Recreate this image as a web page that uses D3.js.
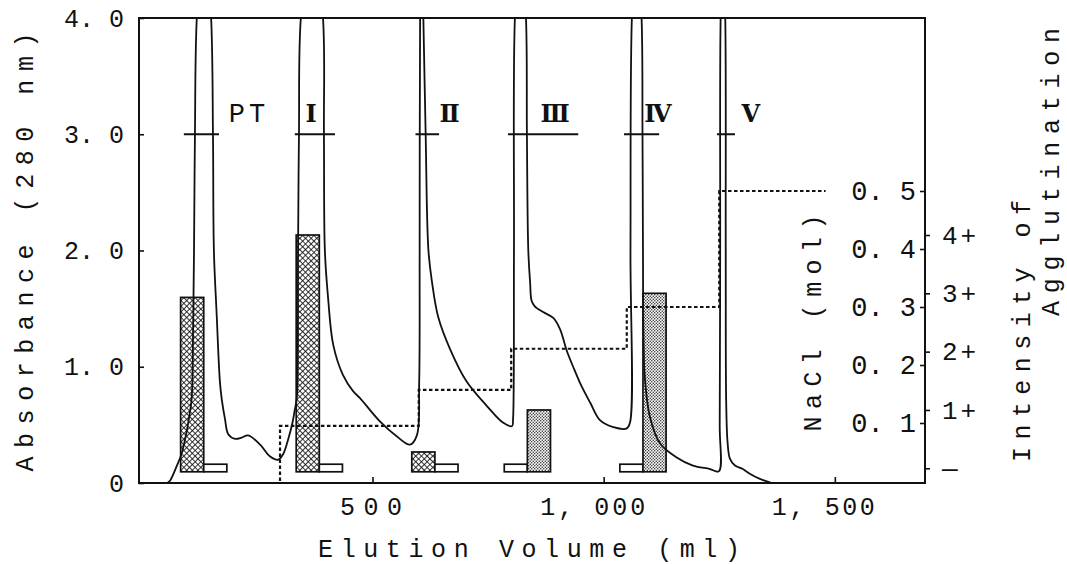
<!DOCTYPE html>
<html>
<head>
<meta charset="utf-8">
<script src="https://cdn.jsdelivr.net/npm/d3@7"></script>
<style>
  html, body { margin: 0; padding: 0; background: #fff; }
  svg text { font-family: "Liberation Mono", "DejaVu Sans Mono", monospace; fill: #111; }
</style>
</head>
<body>
<svg id="chart" width="1067" height="564"></svg>
<script>
// ---- data ----
const volTicks = [500, 1000, 1500];
const volTickLabels = ["500", "1, 000", "1, 500"];
const absTicks = [0, 1, 2, 3, 4];
const absTickLabels = ["0", "1. 0", "2. 0", "3. 0", "4. 0"];
const naclTicks = [0.1, 0.2, 0.3, 0.4, 0.5];
const naclTickLabels = ["0. 1", "0. 2", "0. 3", "0. 4", "0. 5"];
const aggTicks = [0, 1, 2, 3, 4];
const aggTickLabels = ["—", "1+", "2+", "3+", "4+"];

// absorbance at 280 nm (peaks run off the top of the frame)
const curveVol = [56, 62, 77, 87, 98, 104, 109, 112, 114, 116, 120, 136, 151, 155, 157, 163, 170, 174, 181, 188,
  203, 217, 231, 257, 278, 296, 307, 318, 327, 332, 336, 338, 339, 341, 345, 370, 393, 395, 397, 404,
  415, 436, 458, 473, 516, 553, 581, 596, 601, 602, 603, 606, 610, 615, 621, 629, 642, 668, 704, 748,
  782, 802, 804, 806, 808, 820, 832, 834, 837, 841, 844, 851, 869, 891, 906, 920, 934, 949, 971, 992,
  1021, 1050, 1057, 1058, 1061, 1071, 1082, 1084, 1085, 1086, 1089, 1100, 1122, 1158, 1193, 1230, 1249,
  1251, 1252, 1253, 1258, 1263, 1264, 1265, 1268, 1273, 1284, 1301, 1316, 1338, 1364];
const curveAbs = [0, 0.02, 0.15, 0.25, 0.44, 0.58, 0.73, 1.33, 2.0, 3.0, 4.0, 4.8, 4.0, 3.0, 2.0, 1.45, 0.87, 0.72, 0.55, 0.42,
  0.38, 0.39, 0.41, 0.33, 0.23, 0.20, 0.25, 0.38, 0.52, 0.63, 0.72, 0.9, 2.0, 3.0, 4.0, 4.8, 4.0, 3.0, 2.0, 1.59,
  1.19, 0.93, 0.79, 0.73, 0.53, 0.40, 0.33, 0.41, 0.87, 2.0, 4.0, 4.6, 4.0, 3.0, 2.0, 1.72, 1.43, 1.15, 0.87, 0.66,
  0.52, 0.49, 0.55, 2.0, 4.0, 4.7, 4.0, 3.0, 2.0, 1.72, 1.57, 1.52, 1.47, 1.42, 1.32, 1.14, 1.0, 0.86, 0.69, 0.54,
  0.48, 0.47, 0.52, 2.0, 4.0, 4.7, 4.0, 3.0, 2.0, 1.29, 0.91, 0.57, 0.34, 0.22, 0.15, 0.12, 0.10,
  0.5, 2.0, 4.0, 4.6, 4.0, 2.0, 0.7, 0.35, 0.21, 0.15, 0.12, 0.08, 0.035, 0];

// NaCl stepwise gradient
const naclVol = [300, 300, 600, 800, 1050, 1250, 1480];
const naclConc = [0, 0.095, 0.157, 0.228, 0.30, 0.50, 0.50];

// pooled fractions (bar at A280 = 3.0) and their labels
const fracNames = ["PT", "Ⅰ", "Ⅱ", "Ⅲ", "Ⅳ", "Ⅴ"];
const poolStart = [92, 332, 593, 793, 1044, 1245];
const poolEnd = [168, 419, 644, 945, 1120, 1284];
const labelVol = [233, 367, 667, 895, 1117, 1318];

// agglutination of each fraction (0 = "—")
const assayVol = [135, 385, 635, 835, 1085];
const agglHatched = [2.93, 4, 0.28, 0, 0];
const agglDotted = [0, 0, 0, 1, 3];

// ---- drawing ----
const svg = d3.select("#chart");
const L = 139, R = 925, T = 18, B = 483;
const ink = "#111";

const x = d3.scaleLinear().domain([-5, 1695]).range([L, R]);
const yAbs = d3.scaleLinear().domain([0, 4]).range([B, T]);
const yNa = d3.scaleLinear().domain([0, 0.5]).range([481, 191]);
const yAgg = d3.scaleLinear().domain([0, 4]).range([468.3, 235]);

const defs = svg.append("defs");
defs.append("clipPath").attr("id", "plotClip")
  .append("rect").attr("x", L).attr("y", T).attr("width", R - L).attr("height", B - T);

const xh = defs.append("pattern").attr("id", "xhatch")
  .attr("patternUnits", "userSpaceOnUse").attr("width", 4).attr("height", 4)
  .attr("patternTransform", "rotate(45)");
xh.append("rect").attr("width", 4).attr("height", 4).attr("fill", "#fff");
xh.append("line").attr("x1", 0).attr("y1", 0).attr("x2", 4).attr("y2", 0).attr("stroke", ink).attr("stroke-width", 1.7);
xh.append("line").attr("x1", 0).attr("y1", 0).attr("x2", 0).attr("y2", 4).attr("stroke", ink).attr("stroke-width", 1.7);

const dp = defs.append("pattern").attr("id", "dots")
  .attr("patternUnits", "userSpaceOnUse").attr("width", 3).attr("height", 3);
dp.append("rect").attr("width", 3).attr("height", 3).attr("fill", "#fff");
dp.append("circle").attr("cx", 0.75).attr("cy", 0.75).attr("r", 0.75).attr("fill", "#222");
dp.append("circle").attr("cx", 2.25).attr("cy", 2.25).attr("r", 0.75).attr("fill", "#222");

// bars
const barW = 50, base = yAgg(-0.06), negTop = yAgg(0.07);
function drawBars(vals, offset, fill) {
  svg.append("g").selectAll("rect")
    .data(vals.map((v, i) => ({ v, c: assayVol[i] })))
    .join("rect")
    .attr("x", d => x(d.c + offset))
    .attr("width", x(barW) - x(0))
    .attr("y", d => d.v > 0 ? yAgg(d.v) : negTop)
    .attr("height", d => base - (d.v > 0 ? yAgg(d.v) : negTop))
    .attr("fill", d => d.v > 0 ? fill : "#fff")
    .attr("stroke", ink).attr("stroke-width", 1.7);
}
drawBars(agglHatched, -barW, "url(#xhatch)");
drawBars(agglDotted, 0, "url(#dots)");

// NaCl gradient
svg.append("path")
  .datum(naclVol.map((v, i) => [v, naclConc[i]]))
  .attr("d", d3.line().x(d => x(d[0])).y(d => yNa(d[1])).curve(d3.curveStepAfter))
  .attr("fill", "none").attr("stroke", ink).attr("stroke-width", 2.2)
  .attr("stroke-dasharray", "3.5,2.5");

// pooled fraction bars
svg.append("g").selectAll("line")
  .data(poolStart.map((s, i) => [s, poolEnd[i]]))
  .join("line")
  .attr("x1", d => x(d[0])).attr("x2", d => x(d[1]))
  .attr("y1", yAbs(3)).attr("y2", yAbs(3))
  .attr("stroke", ink).attr("stroke-width", 2);

// absorbance curve
svg.append("path")
  .datum(curveVol.map((v, i) => [v, curveAbs[i]]))
  .attr("clip-path", "url(#plotClip)")
  .attr("d", d3.line().x(d => x(d[0])).y(d => yAbs(d[1])).curve(d3.curveCatmullRom.alpha(0.5)))
  .attr("fill", "none").attr("stroke", ink).attr("stroke-width", 1.8);

// frame
svg.append("rect").attr("x", L).attr("y", T).attr("width", R - L).attr("height", B - T)
  .attr("fill", "none").attr("stroke", ink).attr("stroke-width", 2);

// axes
function styleAxis(g, size) {
  g.select(".domain").remove();
  g.selectAll(".tick line").attr("stroke", ink).attr("stroke-width", 1.6);
  g.selectAll("text").attr("font-size", size).attr("font-family", null).attr("fill", ink);
}
const gl = svg.append("g").attr("transform", `translate(${L},0)`)
  .call(d3.axisLeft(yAbs).tickValues(absTicks).tickSize(-5).tickPadding(15)
    .tickFormat((d, i) => absTickLabels[i]));
styleAxis(gl, 25);

const volLabelShift = [-2, -11.5, -12];
const volLabelWidth = [62, 105, 103];
const gb = svg.append("g").attr("transform", `translate(0,${B})`)
  .call(d3.axisBottom(x).tickValues(volTicks).tickSize(-6).tickPadding(14)
    .tickFormat((d, i) => volTickLabels[i]));
styleAxis(gb, 25);
gb.selectAll("text")
  .attr("dx", (d, i) => volLabelShift[i])
  .attr("textLength", (d, i) => volLabelWidth[i])
  .attr("lengthAdjust", "spacing");

const gn = svg.append("g").attr("transform", `translate(${R},0)`)
  .call(d3.axisLeft(yNa).tickValues(naclTicks).tickSize(5).tickPadding(4)
    .tickFormat((d, i) => naclTickLabels[i]));
styleAxis(gn, 27);

const ga = svg.append("g").attr("transform", `translate(${R},0)`)
  .call(d3.axisRight(yAgg).tickValues(aggTicks).tickSize(5).tickPadding(12)
    .tickFormat((d, i) => aggTickLabels[i]));
styleAxis(ga, 26);
ga.selectAll("text").attr("letter-spacing", 3);

// fraction labels
svg.append("g").selectAll("text")
  .data(fracNames.map((n, i) => ({ n, v: labelVol[i] })))
  .join("text")
  .attr("x", d => x(d.v)).attr("y", 122)
  .attr("text-anchor", "middle")
  .style("font-family", d => d.n === "PT" ? null : "'DejaVu Serif', 'Liberation Serif', serif")
  .attr("font-size", d => d.n === "PT" ? 27 : 24)
  .attr("font-weight", d => d.n === "PT" ? null : "bold")
  .attr("letter-spacing", d => d.n === "PT" ? 4 : null)
  .text(d => d.n);

// axis titles
function title(txt, tx, ty, rot, len) {
  svg.append("text")
    .attr("transform", `translate(${tx},${ty}) rotate(${rot})`)
    .attr("text-anchor", "middle").attr("font-size", 25)
    .attr("textLength", len).attr("lengthAdjust", "spacing")
    .text(txt);
}
title("Absorbance (280 nm)", 33, 252, -90, 439);
title("Elution Volume (ml)", 529, 557, 0, 422);
title("NaCl (mol)", 821, 323, -90, 217);
title("Intensity of", 1030, 331, -90, 262);
title("Agglutination", 1059, 172, -90, 288);
</script>
</body>
</html>
